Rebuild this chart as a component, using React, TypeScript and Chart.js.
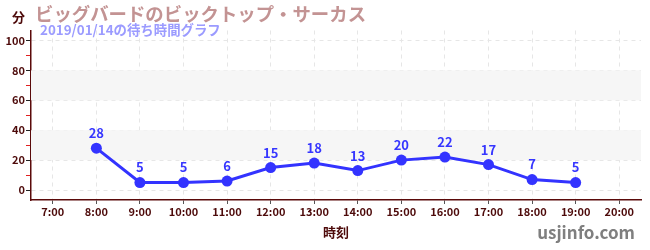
import React, { useEffect, useRef } from "react";
import { Chart, registerables } from "chart.js";

Chart.register(...registerables);

const categories = ["7:00", "8:00", "9:00", "10:00", "11:00", "12:00", "13:00", "14:00", "15:00", "16:00", "17:00", "18:00", "19:00", "20:00"];
const waitTimes: (number | null)[] = [null, 28, 5, 5, 6, 15, 18, 13, 20, 22, 17, 7, 5, null];
const yTicks = [0, 10, 20, 30, 40, 50, 60, 70, 80, 90, 100];
const bands: [number, number][] = [[20, 40], [60, 80]];

const titleText = "ビッグバードのビックトップ・サーカス";
const subtitleText = "2019/01/14の待ち時間グラフ";
const unitText = "分";
const xTitleText = "時刻";
const siteText = "usjinfo.com";

const FONT = "'Noto Sans CJK JP', 'Noto Sans', sans-serif";
const DARK = "#4d0a0a";

const bandPlugin = {
  id: "bands",
  beforeDatasetsDraw(chart: any) {
    const { ctx, chartArea, scales } = chart;
    const y = scales.y;
    ctx.save();
    ctx.fillStyle = "#f6f6f6";
    for (const [a, b] of bands) {
      const y1 = y.getPixelForValue(b);
      const y2 = y.getPixelForValue(a);
      ctx.fillRect(chartArea.left, y1, chartArea.right - chartArea.left, y2 - y1);
    }
    ctx.restore();
  },
};

const textPlugin = {
  id: "texts",
  afterDraw(chart: any) {
    const { ctx, chartArea } = chart;
    ctx.save();
    ctx.textBaseline = "middle";
    ctx.textAlign = "left";
    ctx.fillStyle = DARK;
    ctx.font = `bold 13px ${FONT}`;
    ctx.fillText(unitText, 12, 17);
    ctx.fillStyle = "#c39393";
    ctx.font = `bold 18.4px ${FONT}`;
    ctx.fillText(titleText, 35, 14);
    ctx.fillStyle = "#9b9bff";
    ctx.font = `bold 13.4px ${FONT}`;
    ctx.fillText(subtitleText, 40, 30);
    ctx.fillStyle = DARK;
    ctx.textAlign = "center";
    ctx.font = `bold 13px ${FONT}`;
    ctx.fillText(xTitleText, (chartArea.left + chartArea.right) / 2, 232);
    ctx.fillStyle = "#7f7f7f";
    ctx.textAlign = "right";
    ctx.font = `bold 17px ${FONT}`;
    ctx.fillText(siteText, 635, 233);

    // data labels
    const meta = chart.getDatasetMeta(0);
    ctx.fillStyle = "#3636ff";
    ctx.textAlign = "center";
    ctx.font = `bold 13px ${FONT}`;
    meta.data.forEach((pt: any, i: number) => {
      const v = waitTimes[i];
      if (v === null || v === undefined) return;
      ctx.fillText(String(v), pt.x, pt.y - 15);
    });
    ctx.restore();
  },
};

export default function App() {
  const ref = useRef<HTMLCanvasElement>(null);
  useEffect(() => {
    if (!ref.current) return;
    const chart = new Chart(ref.current, {
      type: "line",
      data: {
        labels: categories,
        datasets: [
          {
            data: waitTimes,
            borderColor: "#3333ff",
            backgroundColor: "#3333ff",
            borderWidth: 3,
            pointRadius: 5.5,
            pointBackgroundColor: "#3333ff",
            pointBorderWidth: 0,
            spanGaps: false,
          },
        ],
      },
      options: {
        animation: false,
        responsive: false,
        layout: { padding: { top: 30.5, right: 9, left: 0, bottom: 0 } },
        plugins: { legend: { display: false }, tooltip: { enabled: false } },
        scales: {
          x: {
            offset: true,
            grid: {
              color: "#e6e6e6",
              tickColor: "#555",
              tickLength: 4,
              drawTicks: true,
              tickBorderDash: [],
            },
            border: { color: "#5a0a0a", width: 1.5, dash: [4, 4] },
            ticks: {
              color: DARK,
              font: { family: FONT, size: 11, weight: "bold" },
              padding: 1,
              maxRotation: 0,
              autoSkip: false,
            },
            afterFit(scale: any) {
              scale.height = 50;
            },
          },
          y: {
            min: -6.67,
            max: 106.67,
            afterBuildTicks(scale: any) {
              scale.ticks = yTicks.map((v) => ({ value: v }));
            },
            grid: {
              color: (c: any) => (c.tick && c.tick.value % 20 === 0 ? "#e6e6e6" : "rgba(0,0,0,0)"),
              tickColor: (c: any) => (c.tick && c.tick.value % 20 === 0 ? "#222" : "#e02020"),
              tickLength: 5,
              tickBorderDash: [],
            },
            border: { color: "#5a0a0a", width: 1.5, dash: [4, 4] },
            ticks: {
              color: DARK,
              font: { family: FONT, size: 11, weight: "bold" },
              padding: 1,
              callback: (v: any) => (Number(v) % 20 === 0 ? String(v) : ""),
            },
            afterFit(scale: any) {
              scale.width = 31;
            },
          },
        },
      },
      plugins: [bandPlugin, textPlugin],
    });
    return () => chart.destroy();
  }, []);
  return (
    <div style={{ position: "fixed", left: 0, top: 0, width: 650, height: 250, background: "#fff" }}>
      <canvas ref={ref} width={650} height={250} style={{ width: 650, height: 250 }} />
    </div>
  );
}
